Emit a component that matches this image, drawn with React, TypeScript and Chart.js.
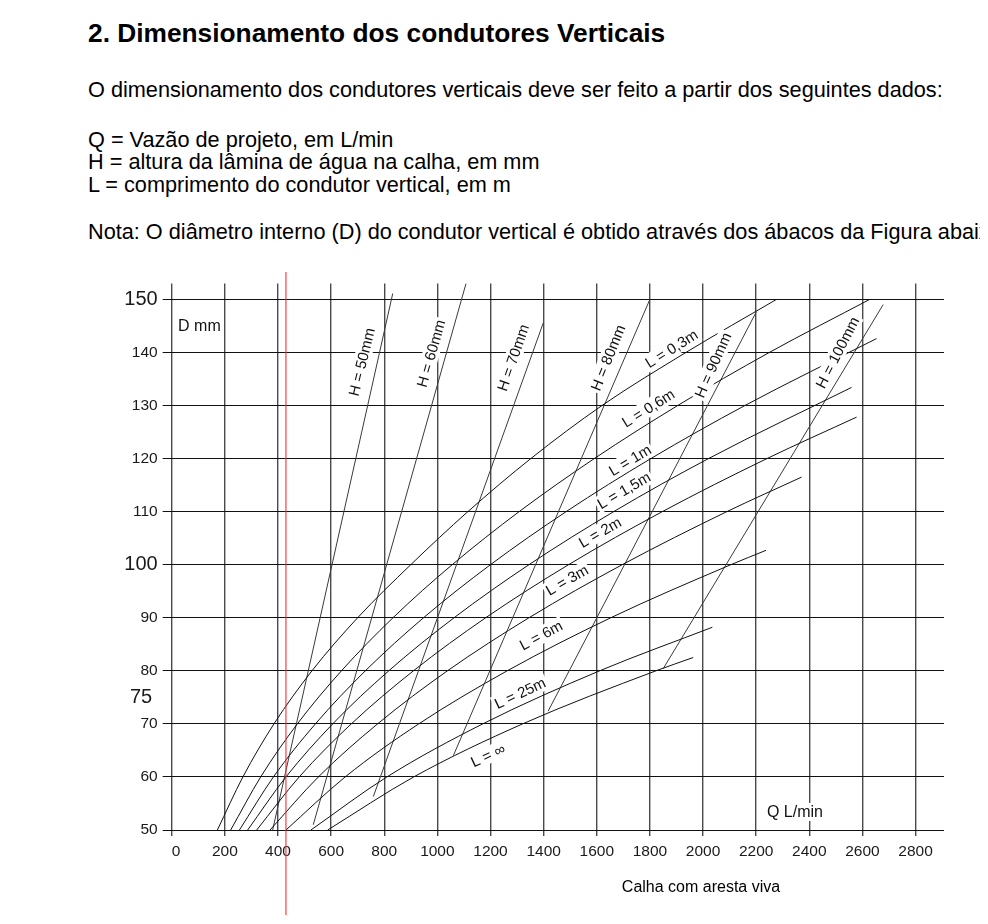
import React, { useEffect, useRef } from 'react';
import { Chart, registerables } from 'chart.js';
Chart.register(...registerables);

// ---- axis ticks ----
const xTicks = [0, 200, 400, 600, 800, 1000, 1200, 1400, 1600, 1800, 2000, 2200, 2400, 2600, 2800];
const yTicks = [50, 60, 70, 75, 80, 90, 100, 110, 120, 130, 140, 150];
const yBigTicks = [75, 100, 150];

// ---- L curves (Q in L/min, D in mm) ----
const L03_Q = [172, 268, 385, 528, 700, 900, 1115, 1352, 1620, 1936, 2277];
const L03_D = [50, 60, 70, 80, 90, 100, 110, 120, 130, 140, 150];
const L06_Q = [222, 335, 473, 639, 833, 1056, 1308, 1591, 1905, 2250, 2628];
const L06_D = [50, 60, 70, 80, 90, 100, 110, 120, 130, 140, 150];
const L1_Q = [255, 383, 541, 729, 948, 1200, 1485, 1804, 2158, 2653];
const L1_D = [50, 60, 70, 80, 90, 100, 110, 120, 130, 142.6];
const L15_Q = [286, 430, 606, 817, 1063, 1345, 1664, 2021, 2559];
const L15_D = [50, 60, 70, 80, 90, 100, 110, 120, 133.4];
const L2_Q = [320, 480, 676, 910, 1182, 1494, 1847, 2241, 2578];
const L2_D = [50, 60, 70, 80, 90, 100, 110, 120, 127.8];
const L3_Q = [370, 552, 775, 1038, 1345, 1696, 2090, 2371];
const L3_D = [50, 60, 70, 80, 90, 100, 110, 116.5];
const L6_Q = [430, 653, 930, 1263, 1653, 2105, 2237];
const L6_D = [50, 60, 70, 80, 90, 100, 102.7];
const L25_Q = [524, 810, 1171, 1611, 2035];
const L25_D = [50, 60, 70, 80, 88.2];
const Linf_Q = [587, 911, 1321, 1823, 1963];
const Linf_D = [50, 60, 70, 80, 82.5];

// ---- H lines ----
const H50_Q = [380, 832];
const H50_D = [50, 151.1];
const H60_Q = [533, 1108];
const H60_D = [51, 153];
const H70_Q = [759, 1399];
const H70_D = [56.3, 145.6];
const H80_Q = [1060, 1800];
const H80_D = [64, 150];
const H90_Q = [1417, 2200];
const H90_D = [72.4, 147.6];
const H100_Q = [1850, 2678];
const H100_D = [80.4, 149];

// marked design flow
const markerQ = 430;

// label texts
const lCurveNames = ['L = 0,3m', 'L = 0,6m', 'L = 1m', 'L = 1,5m', 'L = 2m', 'L = 3m', 'L = 6m', 'L = 25m', 'L = ∞'];
const hLineNames = ['H = 50mm', 'H = 60mm', 'H = 70mm', 'H = 80mm', 'H = 90mm', 'H = 100mm'];

// label placement (data coords of label centre, rotation in degrees)
const lLabelPos = [
  [1881, 140.7, -32], [1794, 129.5, -32], [1725, 119.7, -31], [1702, 114, -30], [1612, 106.1, -30],
  [1488, 97.1, -30], [1390, 86.7, -28], [1311, 75.8, -25], [1190, 64.1, -25],
];
const hLabelPos = [
  [715, 138.2, -76], [976, 139.8, -74], [1285, 139, -71], [1642, 139, -68], [2037, 137.6, -66], [2506, 140, -63],
];

const FONT = '"Liberation Sans", Arial, Helvetica, sans-serif';

const pts = (q: number[], d: number[]) => q.map((v, i) => ({ x: v, y: d[i] }));

const annotPlugin = {
  id: 'annot',
  afterDatasetsDraw(chart: any) {
    const { ctx } = chart;
    const xs = chart.scales.x;
    const ys = chart.scales.y;
    const drawLabel = (text: string, q: number, d: number, ang: number, size: number, bg: boolean) => {
      const px = xs.getPixelForValue(q);
      const py = ys.getPixelForValue(d);
      ctx.save();
      ctx.translate(px, py);
      ctx.rotate((ang * Math.PI) / 180);
      ctx.font = `${size}px ${FONT}`;
      const w = ctx.measureText(text).width;
      if (bg) {
        ctx.fillStyle = '#fff';
        ctx.fillRect(-w / 2 - 2, -size / 2 - 1, w + 4, size + 2);
      }
      ctx.fillStyle = '#111';
      ctx.textAlign = 'center';
      ctx.textBaseline = 'middle';
      ctx.fillText(text, 0, 1);
      ctx.restore();
    };
    lCurveNames.forEach((t, i) => drawLabel(t, lLabelPos[i][0], lLabelPos[i][1], lLabelPos[i][2], 15, true));
    hLineNames.forEach((t, i) => drawLabel(t, hLabelPos[i][0], hLabelPos[i][1], hLabelPos[i][2], 15, true));
    drawLabel('Q L/min', 2346, 53.4, 0, 16, true);
    // D mm (left aligned)
    ctx.save();
    ctx.font = `16px ${FONT}`;
    ctx.fillStyle = '#111';
    ctx.textAlign = 'left';
    ctx.textBaseline = 'middle';
    ctx.fillText('D mm', xs.getPixelForValue(24), ys.getPixelForValue(145.1) + 1);
    ctx.restore();
  },
  afterDraw(chart: any) {
    const { ctx } = chart;
    const x = chart.scales.x.getPixelForValue(markerQ);
    ctx.save();
    ctx.strokeStyle = 'rgba(255,40,40,0.9)';
    ctx.lineWidth = 1.2;
    ctx.beginPath();
    ctx.moveTo(x, 10);
    ctx.lineTo(x, 653);
    ctx.stroke();
    ctx.restore();
  },
};

export default function App() {
  const ref = useRef<HTMLCanvasElement>(null);
  useEffect(() => {
    document.documentElement.style.overflow = 'hidden';
    if (!ref.current) return;
    Chart.defaults.font.family = FONT;
    Chart.defaults.color = '#1a1a1a';
    const lStyle = { borderColor: '#111', borderWidth: 1, cubicInterpolationMode: 'monotone' as const, pointRadius: 0, fill: false };
    const hStyle = { borderColor: '#3a3a3a', borderWidth: 1, tension: 0, pointRadius: 0, fill: false };
    const chart = new Chart(ref.current, {
      type: 'line',
      data: {
        datasets: [
          { label: 'L03', data: pts(L03_Q, L03_D), ...lStyle },
          { label: 'L06', data: pts(L06_Q, L06_D), ...lStyle },
          { label: 'L1', data: pts(L1_Q, L1_D), ...lStyle },
          { label: 'L15', data: pts(L15_Q, L15_D), ...lStyle },
          { label: 'L2', data: pts(L2_Q, L2_D), ...lStyle },
          { label: 'L3', data: pts(L3_Q, L3_D), ...lStyle },
          { label: 'L6', data: pts(L6_Q, L6_D), ...lStyle },
          { label: 'L25', data: pts(L25_Q, L25_D), ...lStyle },
          { label: 'Linf', data: pts(Linf_Q, Linf_D), ...lStyle },
          { label: 'H50', data: pts(H50_Q, H50_D), ...hStyle },
          { label: 'H60', data: pts(H60_Q, H60_D), ...hStyle },
          { label: 'H70', data: pts(H70_Q, H70_D), ...hStyle },
          { label: 'H80', data: pts(H80_Q, H80_D), ...hStyle },
          { label: 'H90', data: pts(H90_Q, H90_D), ...hStyle },
          { label: 'H100', data: pts(H100_Q, H100_D), ...hStyle },
        ],
      },
      options: {
        animation: false,
        responsive: false,
        devicePixelRatio: 1,
        layout: { padding: { top: 21.4, right: 36, bottom: 0, left: 0 } },
        plugins: { legend: { display: false }, tooltip: { enabled: false } },
        elements: { point: { radius: 0 } },
        scales: {
          x: {
            type: 'linear',
            min: 0,
            max: 2907,
            border: { display: false },
            grid: { color: '#4a4a4a', lineWidth: 1.4, tickLength: 6, tickColor: '#4a4a4a' },
            ticks: { autoSkip: false, maxRotation: 0, padding: 6, font: { size: 15.5 }, callback: (v: any) => (v === 0 ? '  0' : String(v)) },
            afterBuildTicks: (s: any) => { s.ticks = xTicks.map((v) => ({ value: v })); },
            afterFit: (s: any) => { s.height = 94; },
          },
          y: {
            type: 'linear',
            min: 50,
            max: 153,
            border: { display: false },
            grid: {
              color: (c: any) => (c.tick && c.tick.value === 75 ? 'rgba(0,0,0,0)' : '#111'),
              tickColor: (c: any) => (c.tick && c.tick.value === 75 ? 'rgba(0,0,0,0)' : '#111'),
              lineWidth: 1,
              tickLength: 9,
            },
            ticks: {
              autoSkip: false,
              padding: 5,
              font: (c: any) => ({ size: c.tick && yBigTicks.includes(c.tick.value) ? 20 : 15.5 }),
              callback: (v: any) => (v === 75 ? '75 ' : String(v)),
            },
            afterBuildTicks: (s: any) => { s.ticks = yTicks.map((v) => ({ value: v })); },
            afterFit: (s: any) => { s.width = 163.7; },
          },
        },
      },
      plugins: [annotPlugin],
    } as any);
    return () => chart.destroy();
  }, []);

  const line = (top: number, text: string, size = 21.7, bold = false) => (
    <div style={{ position: 'absolute', left: 80, top, fontSize: size, fontWeight: bold ? 'bold' : 'normal', lineHeight: 1, whiteSpace: 'nowrap' }}>{text}</div>
  );

  return (
    <div style={{ position: 'relative', width: 980, height: 908, overflow: 'hidden', fontFamily: FONT, color: '#000', background: '#fff' }}>
      {line(11.8, '2. Dimensionamento dos condutores Verticais', 26.3, true)}
      {line(71.4, 'O dimensionamento dos condutores verticais deve ser feito a partir dos seguintes dados:')}
      {line(121.4, 'Q = Vazão de projeto, em L/min')}
      {line(143.4, 'H = altura da lâmina de água na calha, em mm')}
      {line(166.4, 'L = comprimento do condutor vertical, em m')}
      {line(213.4, 'Nota: O diâmetro interno (D) do condutor vertical é obtido através dos ábacos da Figura abaixo')}
      <canvas ref={ref} width={972} height={662} style={{ position: 'absolute', left: 0, top: 254 }} />
      <div style={{ position: 'absolute', left: 693, top: 871.2, transform: 'translateX(-50%)', fontSize: 16, lineHeight: 1, whiteSpace: 'nowrap' }}>Calha com aresta viva</div>
    </div>
  );
}
